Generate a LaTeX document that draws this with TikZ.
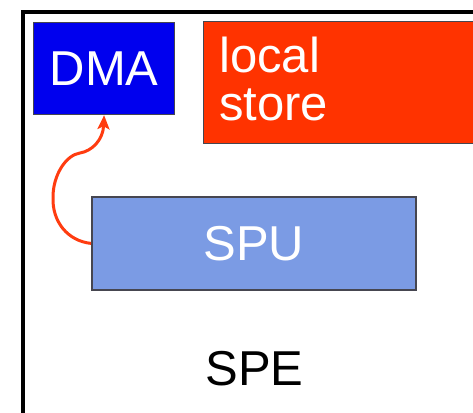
\documentclass[tikz,border=0pt]{standalone}
\usepackage{fontspec}
\setmainfont{Liberation Sans}
\usetikzlibrary{arrows.meta}
\definecolor{dmablue}{RGB}{0,0,238}
\definecolor{storered}{RGB}{255,51,0}
\definecolor{spublue}{RGB}{123,155,228}
\definecolor{flowred}{RGB}{255,60,16}
\definecolor{edgegray}{RGB}{70,70,80}
\begin{document}
\begin{tikzpicture}[x=1pt,y=-1pt,
  unit/.style={draw=edgegray, line width=1.2pt, inner sep=0pt, anchor=north west},
  bigtext/.style={font=\fontsize{49}{47}\selectfont},
  flow/.style={draw=flowred, line width=3pt,
    -{Stealth[length=14pt,width=12pt,inset=3pt]}},
]
\useasboundingbox (0,0) rectangle (473,412);
\clip (0,0) rectangle (473,412);
\fill[white] (0,0) rectangle (473,412);

% SPE outline (continues past the right and bottom edges)
\draw[line width=4pt] (23,440) -- (23,12) -- (500,12);

% DMA engine
\node[unit, fill=dmablue, text=white, bigtext,
      minimum width=141pt, minimum height=92pt] (dma) at (33,22) {DMA};

% local store
\node[unit, fill=storered, minimum width=300pt, minimum height=122pt] (ls) at (203,21) {};
\node[bigtext, text=white, anchor=base west, inner sep=0pt] (lsa) at (219,72) {local};
\node[bigtext, text=white, anchor=base west, inner sep=0pt] (lsb) at (219,120) {store};

% SPU
\node[unit, fill=spublue, text=white, bigtext, line width=1.8pt,
      minimum width=324pt, minimum height=93pt] (spu) at (91,196) {SPU};

% label of the whole element
\node[bigtext, anchor=base, inner sep=0pt] (spe) at (254.5,385) {SPE};

% SPU -> DMA request
\draw[flow] (spu.west) .. controls (68,241) and (52,222) .. (53,197)
  .. controls (53,175) and (66,155) .. (80,153)
  .. controls (92,151) and (103,140) .. (dma.south);
\end{tikzpicture}
\end{document}
